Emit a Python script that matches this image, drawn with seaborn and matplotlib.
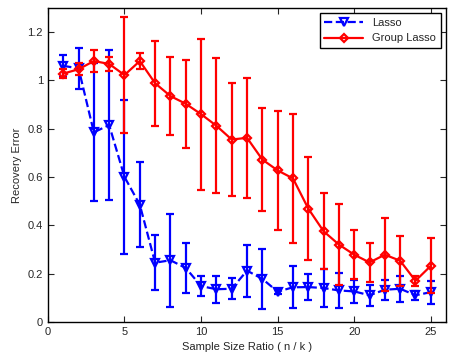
import seaborn as sns
import pandas as pd
import matplotlib.pyplot as plt

# sample size ratio n/k
ratio = [1, 2, 3, 4, 5, 6, 7, 8, 9, 10, 11, 12, 13, 14, 15, 16, 17, 18, 19, 20, 21, 22, 23, 24, 25]

# Lasso: mean recovery error and error bar half-length
lasso_mean = [1.06, 1.05, 0.785, 0.815, 0.60, 0.485, 0.245, 0.255, 0.223, 0.148, 0.135, 0.137, 0.212,
              0.178, 0.125, 0.143, 0.144, 0.14, 0.13, 0.126, 0.11, 0.133, 0.137, 0.11, 0.123]
lasso_err = [0.045, 0.085, 0.285, 0.31, 0.32, 0.177, 0.113, 0.192, 0.103, 0.04, 0.055, 0.044, 0.108,
             0.125, 0.01, 0.087, 0.053, 0.077, 0.073, 0.046, 0.044, 0.042, 0.054, 0.018, 0.048]

# Group Lasso
group_mean = [1.028, 1.046, 1.08, 1.068, 1.022, 1.08, 0.988, 0.935, 0.903, 0.86, 0.812, 0.755, 0.762,
              0.672, 0.627, 0.594, 0.469, 0.375, 0.32, 0.278, 0.246, 0.278, 0.253, 0.17, 0.232]
group_err = [0.02, 0.025, 0.044, 0.028, 0.24, 0.033, 0.175, 0.163, 0.183, 0.312, 0.28, 0.234, 0.249,
             0.213, 0.248, 0.268, 0.213, 0.157, 0.168, 0.101, 0.082, 0.152, 0.104, 0.02, 0.114]

df = pd.DataFrame({"ratio": ratio, "lasso": lasso_mean, "lasso_err": lasso_err,
                   "group": group_mean, "group_err": group_err})

sns.set_style("ticks")
plt.rcParams["font.family"] = ["Liberation Sans", "DejaVu Sans"]
plt.rcParams["font.size"] = 8

fig = plt.figure(figsize=(4.52, 3.6), dpi=100)
ax = fig.add_axes([0.106, 0.106, 0.881, 0.872])

# error bars first, then the lines with markers via seaborn
ax.errorbar(df["ratio"], df["lasso"], yerr=df["lasso_err"], fmt="none", ecolor="blue",
            elinewidth=1.6, capsize=3, capthick=1.6)
sns.lineplot(data=df, x="ratio", y="lasso", ax=ax, color="blue", linestyle="--", lw=1.6,
             dashes=(3, 2.5), marker="v", markersize=5.5, mfc="none", mec="blue", mew=1.6,
             label="Lasso")

ax.errorbar(df["ratio"], df["group"], yerr=df["group_err"], fmt="none", ecolor="red",
            elinewidth=1.6, capsize=3, capthick=1.6)
sns.lineplot(data=df, x="ratio", y="group", ax=ax, color="red", linestyle="-", lw=1.6,
             marker="D", markersize=4.5, mfc="none", mec="red", mew=1.6, label="Group Lasso")

ax.set_xlim(0, 26)
ax.set_ylim(0, 1.3)
ax.set_xticks([0, 5, 10, 15, 20, 25])
ax.set_yticks([0, 0.2, 0.4, 0.6, 0.8, 1.0, 1.2])
ax.set_yticklabels(["0", "0.2", "0.4", "0.6", "0.8", "1", "1.2"])
ax.tick_params(direction="in", top=True, right=True, length=4, width=0.8, labelsize=8)
for s in ax.spines.values():
    s.set_linewidth(1)
    s.set_color("black")

ax.set_xlabel("Sample Size Ratio ( n / k )", fontsize=8)
ax.set_ylabel("Recovery Error", fontsize=8)

leg = ax.legend(loc="upper right", fancybox=False, framealpha=1, edgecolor="black",
                handlelength=3.5, borderaxespad=0.5, fontsize=8)
leg.get_frame().set_linewidth(1)

fig.savefig("out.png", dpi=100)
